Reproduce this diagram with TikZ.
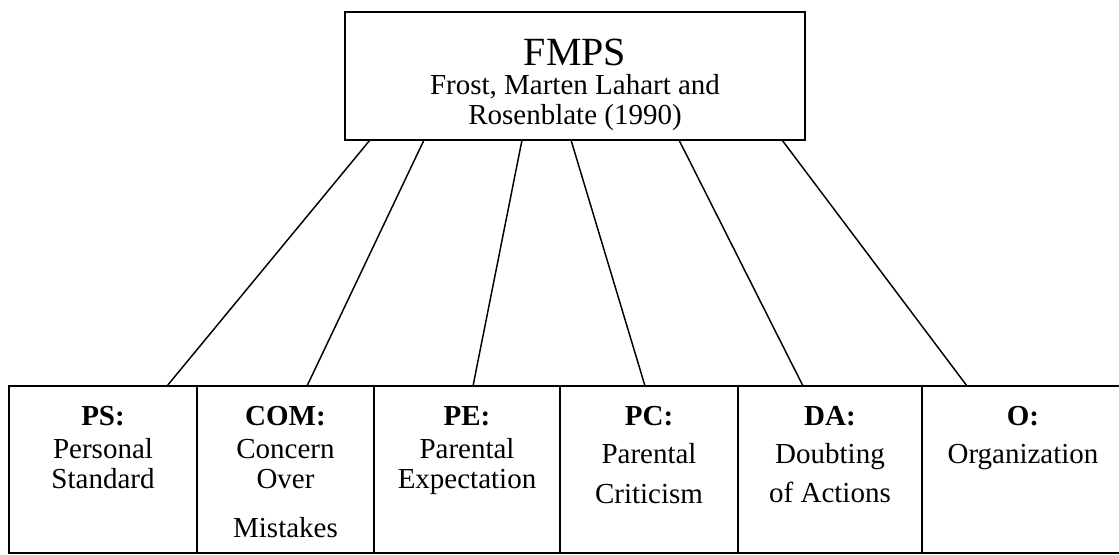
\documentclass[tikz,border=0pt]{standalone}
\usepackage{fontspec}
\setmainfont{Liberation Serif}
\usetikzlibrary{calc}
\newcommand\mystack[1]{\begin{tabular}[t]{@{}c@{}}#1\end{tabular}}
\begin{document}
\begin{tikzpicture}[x=0.75pt,y=-0.75pt,
  boxline/.style={draw=black, line width=1.5pt, rectangle, inner sep=0pt, outer sep=0pt, anchor=north west},
  cell/.style={boxline, minimum height=125.25pt},
  conn/.style={draw=black, line width=1.1pt},
  lbl/.style={inner sep=0pt, anchor=base, font=\fontsize{21.75pt}{22.5pt}\selectfont},
  ttl/.style={inner sep=0pt, anchor=base, font=\fontsize{30pt}{31pt}\selectfont}]
\useasboundingbox (0,0) rectangle (1119,554);
\fill[white] (0,0) rectangle (1119,554);
% top box
\node[boxline, minimum width=345pt, minimum height=96pt] (fmps) at (345,12) {};
\node[ttl] (fmpsT) at (575,65) {FMPS};
\node[lbl] (fmpsA) at (575,94) {\mystack{Frost, Marten Lahart and\\ Rosenblate (1990)}};
% bottom boxes
\node[cell, minimum width=141pt] (ps) at (9,386) {};
\node[cell, minimum width=132.75pt] (com) at (197,386) {};
\node[cell, minimum width=139.5pt] (pe) at (374,386) {};
\node[cell, minimum width=133.5pt] (pc) at (560,386) {};
\node[cell, minimum width=138pt] (da) at (738,386) {};
\node[cell, minimum width=156pt] (o) at (922,386) {};
\node[lbl] (psT) at (103,425) {\mystack{\textbf{PS:}\\[2.25pt] Personal\\ Standard}};
\node[lbl] (comT) at (285.5,425) {\mystack{\textbf{COM:}\\[2.25pt] Concern\\ Over\\[14.25pt] Mistakes}};
\node[lbl] (peT) at (467,425) {\mystack{\textbf{PE:}\\[2.25pt] Parental\\ Expectation}};
\node[lbl] (pcT) at (649,425) {\mystack{\textbf{PC:}\\[6pt] Parental\\[7.5pt] Criticism}};
\node[lbl] (daT) at (830,425) {\mystack{\textbf{DA:}\\[6pt] Doubting\\[6.75pt] of Actions}};
\node[lbl] (oT) at (1023,425) {\mystack{\textbf{O:}\\[6pt] Organization}};
% connector end points
\coordinate (a1) at ($(fmps.south west)+(25,0)$);
\coordinate (a2) at ($(fmps.south west)+(79,0)$);
\coordinate (a3) at ($(fmps.south west)+(177,0)$);
\coordinate (a4) at ($(fmps.south west)+(226,0)$);
\coordinate (a5) at ($(fmps.south west)+(334,0)$);
\coordinate (a6) at ($(fmps.south west)+(437,0)$);
\coordinate (b1) at ($(ps.north west)+(158,0)$);
\coordinate (b2) at ($(com.north west)+(110,0)$);
\coordinate (b3) at ($(pe.north west)+(99,0)$);
\coordinate (b4) at ($(pc.north west)+(85,0)$);
\coordinate (b5) at ($(da.north west)+(65,0)$);
\coordinate (b6) at ($(o.north west)+(45,0)$);
\foreach \i in {1,...,6} {\draw[conn] (a\i) -- (b\i);}
\end{tikzpicture}
\end{document}
